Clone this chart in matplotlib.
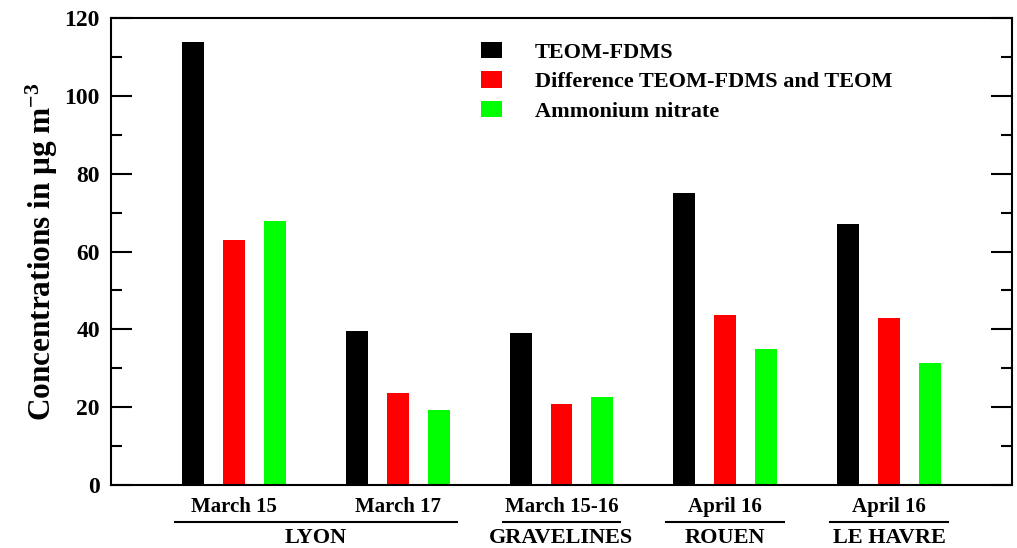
import matplotlib
matplotlib.use("Agg")
import matplotlib.pyplot as plt
import matplotlib.transforms as mtransforms
from matplotlib.patches import Patch
from matplotlib.ticker import MultipleLocator

# Times-like bold serif everywhere
plt.rcParams["font.family"] = ["Liberation Serif", "DejaVu Serif"]
plt.rcParams["font.weight"] = "bold"
plt.rcParams["axes.labelweight"] = "bold"
plt.rcParams["mathtext.fontset"] = "custom"
plt.rcParams["mathtext.rm"] = "Liberation Serif:bold"
plt.rcParams["mathtext.it"] = "Liberation Serif:bold"
plt.rcParams["mathtext.bf"] = "Liberation Serif:bold"

# data
dates = ["March 15", "March 17", "March 15-16", "April 16", "April 16"]
sites = ["LYON", "GRAVELINES", "ROUEN", "LE HAVRE"]
site_groups = [[0, 1], [2], [3], [4]]   # which date columns belong to which site
teom_fdms = [113.8, 39.5, 39.1, 75.1, 67.0]
diff_fdms_teom = [62.9, 23.6, 20.8, 43.8, 43.0]
ammonium_nitrate = [67.8, 19.2, 22.5, 34.9, 31.3]
series_names = ["TEOM-FDMS", "Difference TEOM-FDMS and TEOM", "Ammonium nitrate"]
colors = ["#000000", "#ff0000", "#00ff00"]

fig = plt.figure(figsize=(10.17, 5.48), dpi=100)
ax = fig.add_axes([0.1091, 0.115, 0.886, 0.852])

x = list(range(1, len(dates) + 1))
w = 0.134
off = 0.25
for k, vals in enumerate([teom_fdms, diff_fdms_teom, ammonium_nitrate]):
    ax.bar([xi + (k - 1) * off for xi in x], vals, width=w, color=colors[k],
           label=series_names[k])

ax.set_xlim(0.25, 5.75)
ax.set_ylim(0, 120)
ax.yaxis.set_major_locator(MultipleLocator(20))
ax.yaxis.set_minor_locator(MultipleLocator(10))
ax.tick_params(axis="y", which="both", direction="in", left=True, right=True,
               width=1.5, labelsize=17, pad=8)
ax.tick_params(axis="y", which="major", length=15)
ax.tick_params(axis="y", which="minor", length=8)
ax.set_xticks(x)
ax.set_xticklabels(dates, fontsize=15)
ax.tick_params(axis="x", length=0, pad=9)
for s in ax.spines.values():
    s.set_linewidth(1.5)

ax.set_ylabel("Concentrations in μg m$^{-3}$", fontsize=22.5, labelpad=3)

# site names with underline
trans = mtransforms.blended_transform_factory(ax.transData, ax.transAxes)
for name, grp in zip(sites, site_groups):
    x0 = x[grp[0]] - 0.36
    x1 = x[grp[-1]] + 0.36
    ax.plot([x0, x1], [-0.079, -0.079], color="black", lw=1.5,
            transform=trans, clip_on=False)
    ax.text((x[grp[0]] + x[grp[-1]]) / 2, -0.113, name, transform=trans,
            ha="center", va="center", fontsize=16)

handles = [Patch(facecolor=c) for c in colors]
ax.legend(handles, series_names, loc="upper left", bbox_to_anchor=(0.411, 0.949),
          frameon=False, fontsize=16, handlelength=0.95, handleheight=0.77,
          handletextpad=1.45, labelspacing=0.38, borderpad=0, borderaxespad=0)

fig.savefig("out.png", dpi=100)
